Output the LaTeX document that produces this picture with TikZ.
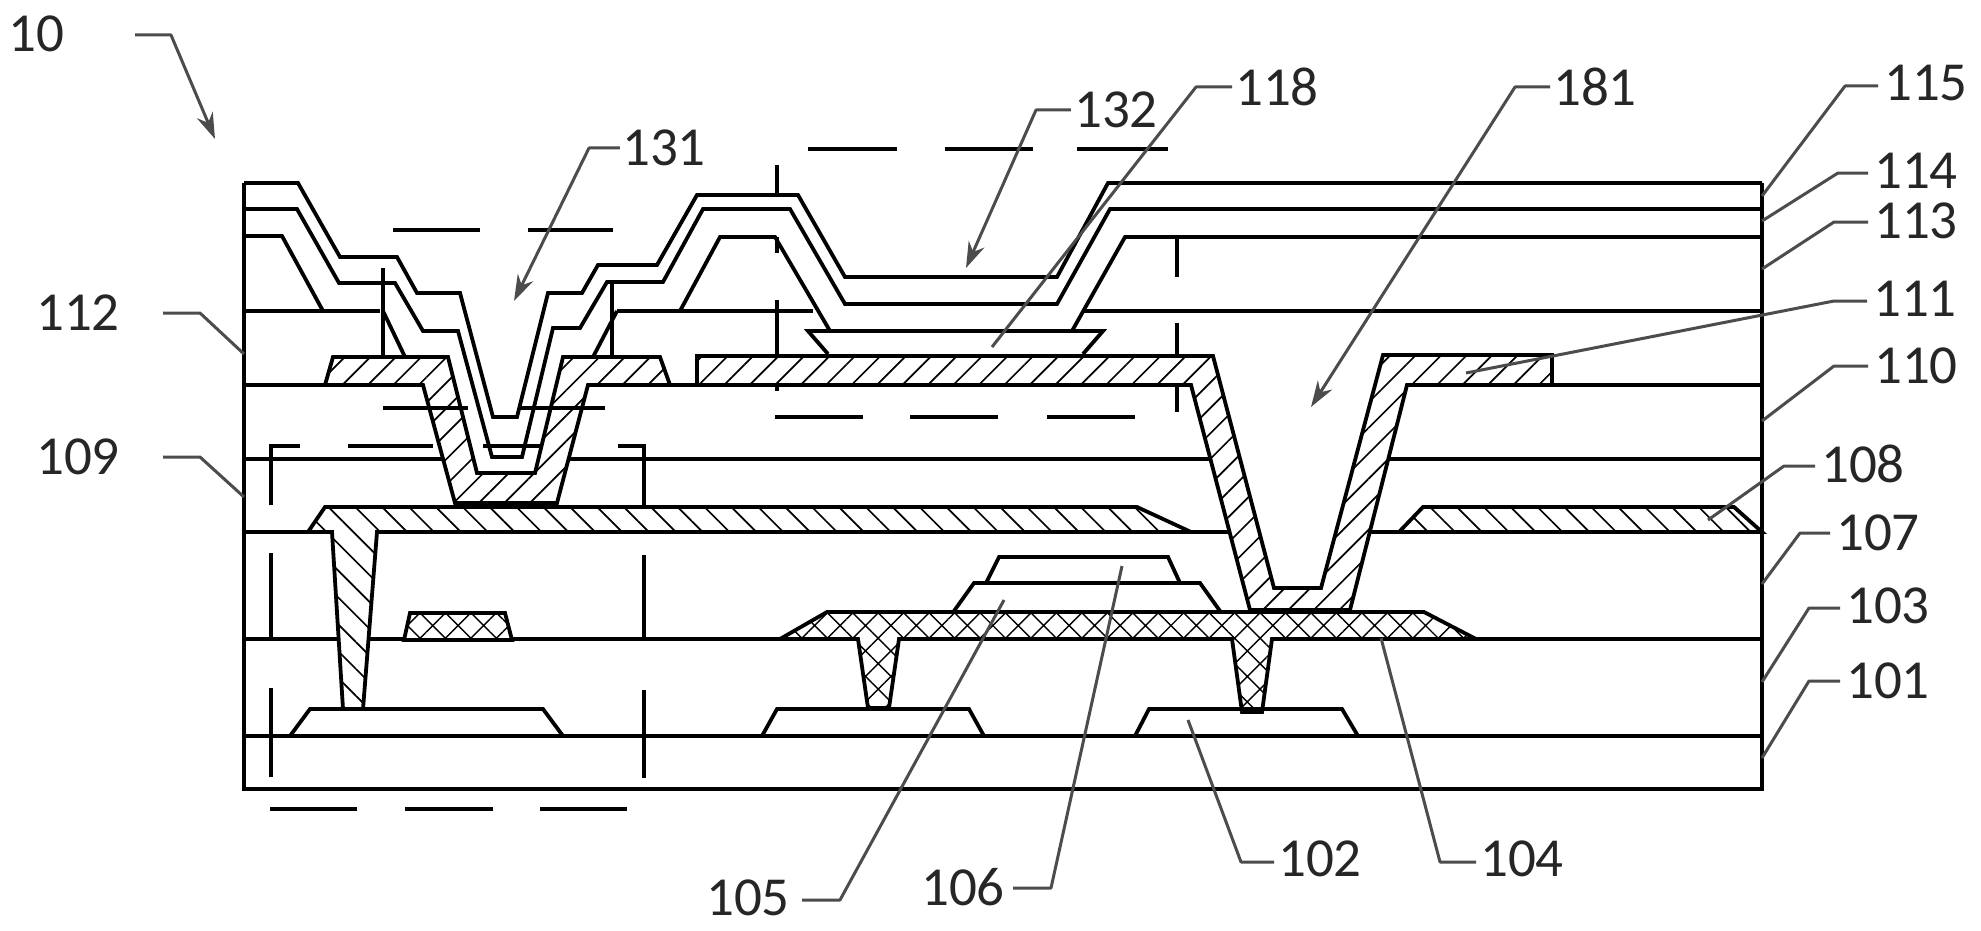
\documentclass[tikz,border=0pt]{standalone}
\usepackage{fontspec}
\setmainfont{Carlito}
\usetikzlibrary{arrows.meta,patterns.meta,calc}
\tikzset{
  thk/.style={line width=3.8pt,line join=miter,line cap=butt,black},
  dsh/.style={line width=3.8pt,black,line cap=butt},
  ne/.style={thk,pattern={Lines[angle=45,distance=18pt,line width=1.7pt]},pattern color=black},
  nw/.style={thk,pattern={Lines[angle=-45,distance=19pt,line width=1.7pt]},pattern color=black},
  cross/.style={thk,pattern={Hatch[angle=45,distance=18pt,line width=1.4pt]},pattern color=black},
  leader/.style={line width=3pt,draw=black!70,line join=round},
  arrowed/.style={-{Stealth[length=26pt,width=17pt]}},
  plain/.style={},
  lab/.style={font=\fontsize{55}{55}\selectfont,text=black!85,inner sep=0pt}
}
\newcommand{\lbl}[7]{%
  \node[lab] (n#1) at (#2) {#1};
  \coordinate (k#1) at (#4);
  \coordinate (e#1) at (#5);
  \draw[leader,#6] ($(n#1.#3 |- k#1)+(#7,0)$) -- (k#1) -- (e#1);
}
\begin{document}
\begin{tikzpicture}[x=1pt,y=-1pt]
\path[fill=white,use as bounding box] (0,0) rectangle (1981,931);
% horizontal layers
\draw[thk] (380,311) -- (244,311);
\draw[thk] (244,183) -- (244,789) -- (1762,789) -- (1762,183);
\draw[thk] (617,311) -- (813,311);
\draw[thk] (1083,311) -- (1762,311);
\draw[thk] (244,385) -- (325,385);
\draw[thk] (670,385) -- (697,385);
\draw[thk] (1552,385) -- (1762,385);
\draw[thk] (244,459) -- (443,459);
\draw[thk] (569,459) -- (1211,459);
\draw[thk] (1388,459) -- (1762,459);
\draw[thk] (244,532) -- (308,532);
\draw[thk] (1191,532) -- (1230,532);
\draw[thk] (1370,532) -- (1399,532);
\draw[thk] (244,639) -- (780,639);
\draw[thk] (1476,639) -- (1762,639);
\draw[thk] (244,736) -- (1762,736);
% top surfaces
\draw[thk] (244,183) -- (298,183) -- (340,257) -- (397,257) -- (417,293) -- (460,293) -- (493,417) -- (517,417) -- (548,293) -- (582,293) -- (598,265) -- (657,265) -- (697,195) -- (798,195) -- (845,277) -- (1057,277) -- (1108,183) -- (1762,183);
\draw[thk] (244,209) -- (297,209) -- (339,283) -- (395,283) -- (423,331) -- (458,331) -- (492,457) -- (522,457) -- (553,328) -- (580,328) -- (607,282) -- (663,282) -- (703,209) -- (790,209) -- (845,304) -- (1057,304) -- (1110,209) -- (1762,209);
\draw[thk] (244,236) -- (282,236) -- (323,311);
\draw[thk] (680,311) -- (720,237) -- (775,237) -- (830,331);
\draw[thk] (1072,331) -- (1125,237) -- (1762,237);
\draw[thk] (383,311) -- (405,357);
\draw[thk] (617,311) -- (593,357);
\draw[thk] (828,354) -- (808,331) -- (1103,331) -- (1083,354);
% electrode 111
\fill[white] (325,385) -- (333,357) -- (448,357) -- (477,473) -- (535,473) -- (563,357) -- (660,357) -- (670,385) -- (588,385) -- (557,503) -- (455,503) -- (423,385) -- cycle;
\draw[ne] (325,385) -- (333,357) -- (448,357) -- (477,473) -- (535,473) -- (563,357) -- (660,357) -- (670,385) -- (588,385) -- (557,503) -- (455,503) -- (423,385) -- cycle;
\fill[white] (697,385) -- (697,356) -- (1213,356) -- (1274,588) -- (1321,588) -- (1383,355) -- (1552,355) -- (1552,385) -- (1407,385) -- (1350,610) -- (1250,610) -- (1191,385) -- cycle;
\draw[ne] (697,385) -- (697,356) -- (1213,356) -- (1274,588) -- (1321,588) -- (1383,355) -- (1552,355) -- (1552,385) -- (1407,385) -- (1350,610) -- (1250,610) -- (1191,385) -- cycle;
% layer 108
\fill[white] (308,532) -- (325,507) -- (1137,507) -- (1191,532) -- (377,532) -- (363,709) -- (343,709) -- (332,532) -- cycle;
\draw[nw] (308,532) -- (325,507) -- (1137,507) -- (1191,532) -- (377,532) -- (363,709) -- (343,709) -- (332,532) -- cycle;
\draw[nw] (1399,532) -- (1423,507) -- (1734,507) -- (1762,532) -- cycle;
% gate stack
\draw[thk] (986,583) -- (999,557) -- (1168,557) -- (1180,583);
\draw[thk] (954,611) -- (974,583) -- (1200,583) -- (1220,611);
\fill[white] (780,639) -- (827,612) -- (1424,612) -- (1476,639) -- (1272,639) -- (1262,712) -- (1242,712) -- (1232,639) -- (899,639) -- (889,708) -- (868,708) -- (858,639) -- cycle;
\draw[cross] (780,639) -- (827,612) -- (1424,612) -- (1476,639) -- (1272,639) -- (1262,712) -- (1242,712) -- (1232,639) -- (899,639) -- (889,708) -- (868,708) -- (858,639) -- cycle;
\fill[white] (404,640) -- (410,613) -- (505,613) -- (512,640) -- cycle;
\draw[cross] (404,640) -- (410,613) -- (505,613) -- (512,640) -- cycle;
% bottom trapezoids
\draw[thk] (290,736) -- (310,709) -- (543,709) -- (563,736);
\draw[thk] (762,736) -- (777,709) -- (969,709) -- (984,736);
\draw[thk] (1135,736) -- (1149,709) -- (1342,709) -- (1358,736);
% dashed outlines
\draw[dsh] (393,230) -- (480,230) (528,230) -- (613,230);
\draw[dsh] (383,268) -- (383,357);
\draw[dsh] (612,283) -- (612,357);
\draw[dsh] (383,408) -- (468,408) (520,408) -- (605,408);
\draw[dsh] (300,446) -- (271,446) -- (271,505);
\draw[dsh] (348,446) -- (433,446) (483,446) -- (543,446);
\draw[dsh] (618,446) -- (644,446) -- (644,505);
\draw[dsh] (271,553) -- (271,640) (271,688) -- (271,777);
\draw[dsh] (644,555) -- (644,640) (644,690) -- (644,778);
\draw[dsh] (270,809) -- (357,809) (405,809) -- (493,809) (540,809) -- (627,809);
\draw[dsh] (777,165) -- (777,195) (777,237) -- (777,253) (777,300) -- (777,354) (777,385) -- (777,391);
\draw[dsh] (808,149) -- (897,149) (945,149) -- (1033,149) (1077,149) -- (1168,149);
\draw[dsh] (775,417) -- (863,417) (910,417) -- (998,417) (1047,417) -- (1135,417);
\draw[dsh] (1177,236) -- (1177,277) (1177,323) -- (1177,354) (1177,385) -- (1177,412);
% labels and leaders
\lbl{10}{36,34}{east}{171,35}{215,139}{arrowed}{71}
\lbl{131}{664,148}{west}{589,148}{514,301}{arrowed}{-2}
\lbl{132}{1116,110}{west}{1036,110}{966,268}{arrowed}{-3}
\lbl{118}{1277,87}{west}{1196,87}{992,347}{plain}{-3}
\lbl{181}{1595,87}{west}{1515,87}{1311,407}{arrowed}{-3}
\lbl{115}{1926,83}{west}{1845,86}{1762,196}{plain}{-6}
\lbl{114}{1916,171}{west}{1838,173}{1762,221}{plain}{-6}
\lbl{113}{1916,221}{west}{1834,222}{1762,269}{plain}{-6}
\lbl{111}{1915,299}{west}{1834,301}{1466,373}{plain}{-6}
\lbl{110}{1916,366}{west}{1834,366}{1762,421}{plain}{-6}
\lbl{108}{1863,464}{west}{1784,466}{1708,520}{plain}{-6}
\lbl{107}{1878,533}{west}{1800,533}{1762,584}{plain}{-6}
\lbl{103}{1888,606}{west}{1809,608}{1762,682}{plain}{-6}
\lbl{101}{1888,681}{west}{1809,681}{1762,758}{plain}{-6}
\lbl{112}{78,313}{east}{200,313}{244,354}{plain}{43}
\lbl{109}{78,457}{east}{200,457}{244,497}{plain}{43}
\lbl{105}{748,898}{east}{840,900}{1004,600}{plain}{12}
\lbl{106}{963,887}{east}{1051,888}{1122,566}{plain}{8}
\lbl{102}{1320,859}{west}{1241,862}{1188,720}{plain}{-4}
\lbl{104}{1522,859}{west}{1440,862}{1381,638}{plain}{-4}
\end{tikzpicture}
\end{document}
